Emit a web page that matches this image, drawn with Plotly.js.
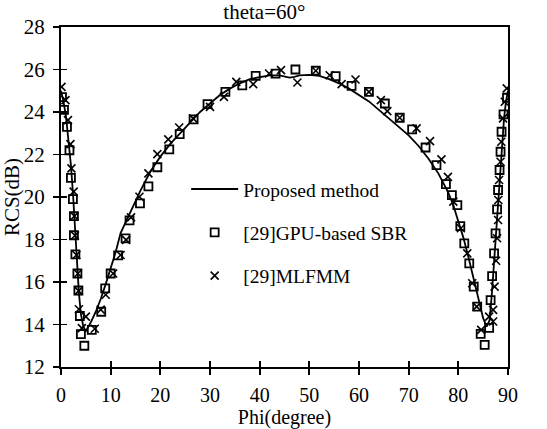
<!DOCTYPE html>
<html>
<head>
<meta charset="utf-8">
<script src="https://cdn.plot.ly/plotly-3.0.1.min.js"></script>
<style>html,body{margin:0;padding:0;background:#fff;}#chart{width:547px;height:429px;}</style>
</head>
<body>
<div id="chart"></div>
<script>
// Proposed method (solid line)
var linePhi = [0,0.5,1.0,1.5,2.0,2.4,2.7,3.0,3.3,3.6,4.0,4.5,5.0,6,7,8,9,10,11,12,13,14,15,16,18,20,22,24,26,28,30,32,34,36,38,40,42,44,46,47,48,50,52,54,56,58,60,62,64,66,68,70,72,74,76,78,79,80,81,82,83,84,85,85.7,86.3,86.8,87.2,87.6,88.0,88.4,88.8,89.2,89.6,90];
var lineRcs = [25.0,24.5,23.8,22.8,21.5,20.2,19.0,17.8,16.6,15.5,14.5,13.9,13.7,14.1,14.6,15.2,15.9,16.6,17.4,18.3,18.8,19.3,19.8,20.3,21.2,21.9,22.5,23.0,23.5,24.0,24.4,24.8,25.1,25.35,25.55,25.65,25.72,25.72,25.62,25.65,25.72,25.75,25.7,25.55,25.35,25.1,24.8,24.5,24.1,23.7,23.3,22.9,22.4,21.8,21.1,20.2,19.6,18.9,18.1,17.2,16.2,15.2,14.3,13.9,14.2,15.6,17.0,18.4,19.8,21.2,22.6,23.7,24.5,25.0];

// [29] GPU-based SBR (open squares)
var sbrPhi = [0.2,0.6,1.2,1.7,2.0,2.4,2.6,2.6,2.9,3.3,3.5,3.8,4.0,4.7,6.2,8.1,8.9,10.0,11.5,13.0,13.8,15.9,17.6,19.4,21.8,23.9,26.7,29.5,33.1,36.5,39.2,43.2,47.2,51.3,55.3,58.5,62.0,65.2,68.2,70.7,73.4,75.6,77.5,78.7,79.8,80.4,81.2,82.2,83.1,83.8,84.5,85.3,86.2,86.5,86.8,87.2,87.5,87.8,88.0,88.3,88.5,88.7,89.1,89.8];
var sbrRcs = [24.7,24.1,23.3,22.2,20.9,19.9,19.1,18.2,17.3,16.4,15.6,14.4,13.55,13.0,13.75,14.6,15.7,16.4,17.25,18.05,18.9,19.7,20.5,21.4,22.24,22.96,23.65,24.37,24.95,25.25,25.7,25.81,26.0,25.94,25.69,25.23,24.95,24.4,23.73,23.18,22.33,21.5,20.61,20.09,19.62,18.63,17.82,16.88,15.78,14.84,13.56,13.04,13.84,15.15,16.28,17.35,18.29,19.42,20.33,21.27,22.13,23.07,23.89,24.67];

// [29] MLFMM (crosses)
var mlPhi = [0.1,0.9,1.4,1.9,2.1,2.55,2.7,2.8,3.1,3.4,3.55,3.6,4.2,5.0,6.8,8.0,9.0,10.5,12.0,13.1,14.1,15.8,17.6,19.4,21.6,23.8,26.6,30.0,32.8,35.3,38.7,41.9,44.3,47.6,51.3,54.1,56.5,59.3,62.0,64.4,65.7,68.2,71.6,74.3,76.6,77.9,79.0,80.5,81.8,82.8,83.7,84.6,86.2,87.0,87.0,87.3,87.6,87.8,88.0,88.05,88.2,88.5,88.65,89.0,89.35,89.75];
var mlRcs = [25.18,24.56,23.62,22.49,21.35,20.25,19.1,18.19,17.27,16.4,15.58,14.72,13.83,14.37,13.8,14.7,15.4,16.4,17.27,17.98,19.04,20.01,21.11,22.02,22.71,23.27,23.7,24.24,24.71,25.42,25.31,25.81,25.97,25.39,25.94,25.73,25.31,25.53,24.95,24.56,24.04,23.73,23.23,22.63,21.77,20.95,19.78,18.53,17.35,15.94,14.84,13.75,14.37,14.14,14.69,15.78,17.0,18.06,18.92,19.86,20.8,21.66,22.6,23.7,24.48,25.11];

var xTicks = [0,10,20,30,40,50,60,70,80,90];
var yTicks = [12,14,16,18,20,22,24,26,28];

var FONT = 'Liberation Serif, Times New Roman, serif';

var traces = [
  {x: linePhi, y: lineRcs, type: 'scatter', mode: 'lines', name: 'Proposed method',
   line: {color: '#000', width: 1.8}, legendgroup: 'a'},
  {x: sbrPhi, y: sbrRcs, type: 'scatter', mode: 'markers', name: '[29]GPU-based SBR',
   marker: {symbol: 'square-open', size: 8, color: '#000', line: {width: 1.8, color: '#000'}}, legendgroup: 'b'},
  {x: mlPhi, y: mlRcs, type: 'scatter', mode: 'markers', name: '[29]MLFMM',
   marker: {symbol: 'x-thin-open', size: 8, color: '#000', line: {width: 1.6, color: '#000'}}, legendgroup: 'c'},
  {x: [], y: [], xaxis: 'x2', yaxis: 'y2', type: 'scatter', mode: 'markers', showlegend: false, hoverinfo: 'skip'}
];

var layout = {
  width: 547, height: 429,
  margin: {l: 61, r: 39, t: 27, b: 62, pad: 0},
  paper_bgcolor: '#fff', plot_bgcolor: '#fff',
  font: {family: FONT, size: 20, color: '#000'},
  showlegend: true,
  title: {text: 'theta=60°', font: {family: FONT, size: 21, color: '#000'},
          x: 0.455, xref: 'paper', xanchor: 'center', y: 0.972, yref: 'container', yanchor: 'middle'},
  xaxis: {range: [0, 90], tickvals: xTicks, ticktext: xTicks.map(String), ticks: 'outside', ticklen: 6, tickwidth: 1.8,
          tickcolor: '#000', showline: true, linewidth: 2, linecolor: '#000', mirror: true, showgrid: false, zeroline: false,
          ticklabelstandoff: 3,
          tickfont: {family: FONT, size: 20, color: '#000'},
          title: {text: 'Phi(degree)', font: {family: FONT, size: 20, color: '#000'}, standoff: 5}},
  yaxis: {range: [12, 28], tickvals: yTicks, ticktext: yTicks.map(String), ticks: 'outside', ticklen: 6, tickwidth: 1.8,
          tickcolor: '#000', showline: true, linewidth: 2, linecolor: '#000', mirror: true, showgrid: false, zeroline: false,
          ticklabelstandoff: 4,
          tickfont: {family: FONT, size: 21, color: '#000'},
          title: {text: 'RCS(dB)', font: {family: FONT, size: 21, color: '#000'}, standoff: 2}},
  xaxis2: {range: [0, 90], tickvals: xTicks, overlaying: 'x', anchor: 'y2', side: 'bottom', ticks: 'inside', ticklen: 6, tickwidth: 1.8,
           tickcolor: '#000', showticklabels: false, showline: false, showgrid: false, zeroline: false},
  yaxis2: {range: [12, 28], tickvals: yTicks, overlaying: 'y', anchor: 'x2', side: 'left', ticks: 'inside', ticklen: 6, tickwidth: 1.8,
           tickcolor: '#000', showticklabels: false, showline: false, showgrid: false, zeroline: false},
  legend: {x: 0.28, y: 0.58, xanchor: 'left', yanchor: 'top', bgcolor: 'rgba(0,0,0,0)', borderwidth: 0,
           traceorder: 'grouped', tracegroupgap: 15, itemwidth: 47,
           font: {family: FONT, size: 19.5, color: '#000'}}
};

Plotly.newPlot('chart', traces, layout, {displayModeBar: false, staticPlot: true});
</script>
</body>
</html>
